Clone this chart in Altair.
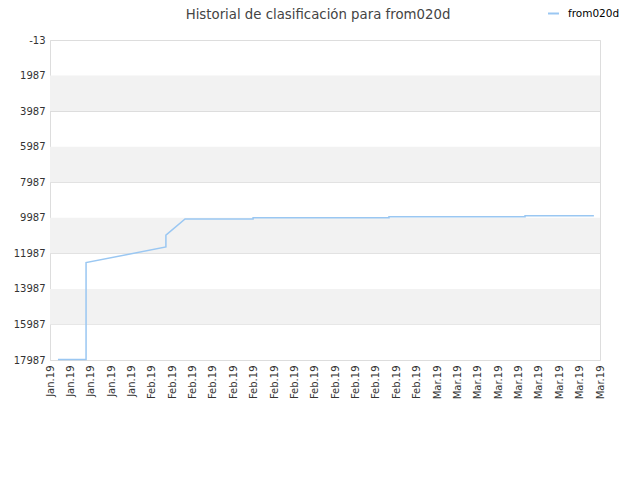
import altair as alt
import pandas as pd

# x axis labels (one per tick)
tick_labels = ["Jan.19"] * 5 + ["Feb.19"] * 14 + ["Mar.19"] * 9
# y ticks
y_ticks = [-13, 1987, 3987, 5987, 7987, 9987, 11987, 13987, 15987, 17987]
# shaded bands
band_start = [1987, 5987, 9987, 13987]
band_end = [3987, 7987, 11987, 15987]
# series (position in tick-index units, rank)
series_name = "from020d"
pos_t = [0.39, 1.77, 1.77, 5.69, 5.69, 6.63, 9.97, 9.97, 16.64, 16.64, 23.32, 23.32, 26.7]
ranks = [17960, 17960, 12510, 11630, 10960, 10050, 10050, 9990, 9990, 9930, 9930, 9870, 9870]

line_df = pd.DataFrame({"t": pos_t, "rank": ranks, "idx": list(range(len(pos_t))),
                        "serie": [series_name] * len(pos_t)})
band_df = pd.DataFrame({"y0": band_start, "y1": band_end})

FONT = "DejaVu Sans"
label_js = "[" + ",".join('"%s"' % s for s in tick_labels) + "]"

yscale = alt.Scale(domain=[-13, 17987], reverse=True, nice=False, zero=False)
xscale = alt.Scale(domain=[0, len(tick_labels) - 1], nice=False, zero=False)

y_axis = alt.Axis(values=y_ticks, labelExpr="'' + datum.value",
                  labelFont=FONT, labelFontSize=10,
                  labelColor="#333333", ticks=False, domain=False,
                  grid=True, gridColor="#dddddd", title=None,
                  labelPadding=5)

bands = alt.Chart(band_df).mark_rect(color="#f2f2f2").encode(
    y=alt.Y("y0:Q", scale=yscale, axis=y_axis),
    y2="y1:Q",
)

line = alt.Chart(line_df).mark_line(strokeWidth=1.5, interpolate="linear").encode(
    x=alt.X("t:Q", scale=xscale,
            axis=alt.Axis(values=list(range(len(tick_labels))),
                          labelExpr=label_js + "[datum.value]",
                          labelAngle=-90, labelFont=FONT, labelFontSize=10,
                          labelColor="#333333", ticks=False, domain=False,
                          grid=False, title=None, labelPadding=5,
                          labelAlign="right", labelBaseline="middle")),
    y=alt.Y("rank:Q", scale=yscale, axis=y_axis),
    order="idx:Q",
    color=alt.Color("serie:N",
                    scale=alt.Scale(domain=[series_name], range=["#9ac7f2"]),
                    legend=alt.Legend(orient="none", legendX=497, legendY=-33,
                                      title=None, symbolType="stroke",
                                      symbolStrokeWidth=2, symbolSize=120,
                                      labelOffset=8,
                                      labelFont=FONT, labelFontSize=10.5,
                                      labelColor="#000000")),
)

chart = alt.layer(bands, line).properties(
    width=550,
    height=320,
    padding={"left": 42, "top": 32, "right": 32, "bottom": 112},
    autosize=alt.AutoSizeParams(type="none"),
    title=alt.TitleParams("Historial de clasificación para from020d",
                          font=FONT, fontSize=13.3, fontWeight="normal",
                          color="#444444", anchor="middle", dx=-7, offset=-14),
).configure_view(stroke="#dddddd", strokeWidth=1)

chart.save("out.html", embed_options={"renderer": "svg", "actions": False})
